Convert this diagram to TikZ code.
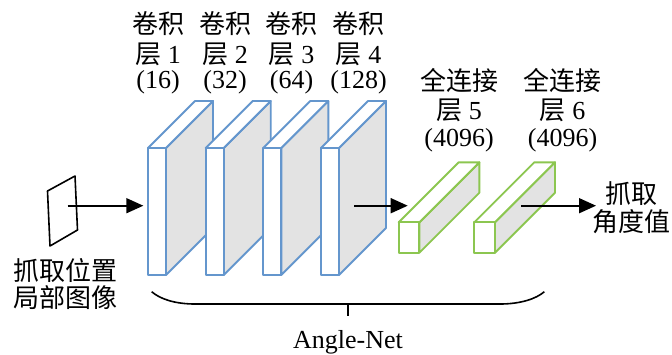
\documentclass[tikz,border=0pt]{standalone}
\usepackage{fontspec}
\setmainfont{Liberation Serif}
\newfontfamily\cjk{Noto Sans CJK SC}
\usetikzlibrary{arrows.meta}
\definecolor{convblue}{RGB}{100,150,205}
\definecolor{fcgreen}{RGB}{140,198,80}
\definecolor{facegray}{RGB}{227,227,227}
\newcommand\mycuboid[6]{%
  \filldraw[draw=#6,fill=facegray] ({#1+#3},#2) -- ++(#5,-#5) -- ++(0,#4) -- ++(-#5,#5) -- cycle;
  \filldraw[draw=#6,fill=white] (#1,#2) -- ++(#5,-#5) -- ++(#3,0) -- ++(-#5,#5) -- cycle;
  \filldraw[draw=#6,fill=white] (#1,#2) rectangle ++(#3,#4);
}
\begin{document}
\begin{tikzpicture}[x=1pt,y=-1pt,
  lbl/.style={align=center, inner sep=0pt, font=\fontsize{26}{28}\selectfont, anchor=base},
  arr/.style={line width=1.6pt, -{Triangle[length=17pt,width=15pt]}},
  line join=round, line width=1.9pt]
\useasboundingbox (0,0) rectangle (672,354);
% input image
\draw[line width=1.6pt] (47.5,191) -- (75,176) -- (77.5,230) -- (50,246) -- cycle;
% conv layers
\mycuboid{148}{148}{18}{127}{47}{convblue}
\mycuboid{205.7}{148}{18}{127}{47}{convblue}
\mycuboid{263.3}{148}{18}{127}{47}{convblue}
\mycuboid{321}{148}{18}{127}{47}{convblue}
% fc layers
\mycuboid{398.7}{222.3}{20.7}{30.4}{60}{fcgreen}
\mycuboid{474.3}{222.3}{20.7}{30.4}{60}{fcgreen}
% arrow coordinates
\coordinate (inimg) at (67.7,205.7);
\coordinate (conv1in) at (143.3,205.7);
\coordinate (conv4out) at (354.3,205.7);
\coordinate (fc5in) at (407.7,205.7);
\coordinate (fc6out) at (521,205.7);
\coordinate (outpt) at (596,205.7);
\draw[arr] (inimg) -- (conv1in);
\draw[arr] (conv4out) -- (fc5in);
\draw[arr] (fc6out) -- (outpt);
% labels (base = baseline of last line)
\node[lbl] (l1) at (158,88.3) {{\cjk 卷积}\\[2pt]{\cjk 层} 1\\[-3pt](16)};
\node[lbl] (l2) at (225,88.3) {{\cjk 卷积}\\[2pt]{\cjk 层} 2\\[-3pt](32)};
\node[lbl] (l3) at (291.5,88.3) {{\cjk 卷积}\\[2pt]{\cjk 层} 3\\[-3pt](64)};
\node[lbl] (l4) at (358.5,88.3) {{\cjk 卷积}\\[2pt]{\cjk 层} 4\\[-3pt](128)};
\node[lbl] (l5) at (459,146.7) {{\cjk 全连接}\\[1pt]{\cjk 层} 5\\[-1pt](4096)};
\node[lbl] (l6) at (562.5,146.7) {{\cjk 全连接}\\[1pt]{\cjk 层} 6\\[-1pt](4096)};
\node[lbl] (lout) at (631,231) {{\cjk 抓取}\\{\cjk 角度值}};
\node[lbl] (lin) at (65,307) {{\cjk 抓取位置}\\[-1pt]{\cjk 局部图像}};
% brace
\coordinate (bl) at (151.7,291.7);
\coordinate (br) at (544.3,291.7);
\coordinate (bm) at (347.7,304);
\coordinate (bt) at (347.7,315.7);
\draw[line width=1.6pt] (bl) .. controls (160,299) and (175,304) .. (195,304) -- (500,304) .. controls (520,304) and (536,299) .. (br);
\draw[line width=1.6pt] (bm) -- (bt);
\node[lbl] (net) at (348,348) {Angle-Net};
\end{tikzpicture}
\end{document}
